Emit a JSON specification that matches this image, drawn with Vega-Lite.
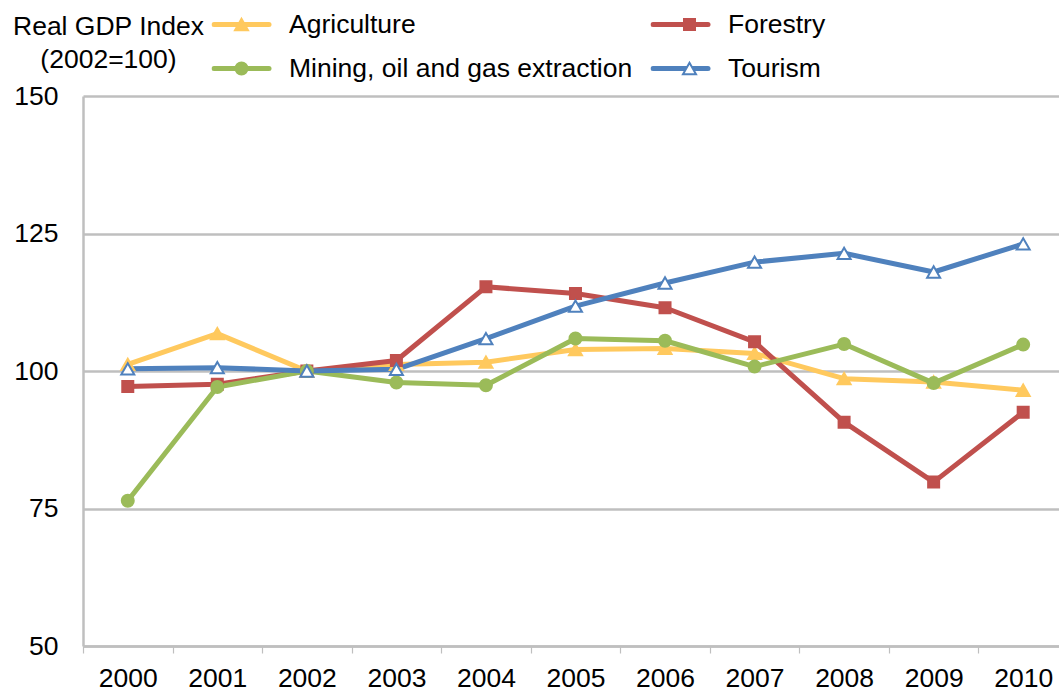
{
  "$schema": "https://vega.github.io/schema/vega-lite/v6.json",
  "width": 976,
  "height": 550,
  "autosize": "none",
  "padding": {"left": 83, "top": 96, "right": 0, "bottom": 46},
  "background": "white",
  "config": {
    "font": "Liberation Sans",
    "view": {"stroke": null},
    "axis": {"labelColor": "#000000", "titleColor": "#000000", "labelFontSize": 26.5, "titleFontSize": 26.5, "titleFontWeight": "normal"},
    "legend": {"labelColor": "#000000", "labelFontSize": 26.5, "labelLimit": 600}
  },
  "data": {
    "values": [
      {"year": 2000, "series": "Agriculture", "value": 101.2},
      {"year": 2001, "series": "Agriculture", "value": 106.8},
      {"year": 2002, "series": "Agriculture", "value": 100.0},
      {"year": 2003, "series": "Agriculture", "value": 101.2},
      {"year": 2004, "series": "Agriculture", "value": 101.6},
      {"year": 2005, "series": "Agriculture", "value": 103.9},
      {"year": 2006, "series": "Agriculture", "value": 104.1},
      {"year": 2007, "series": "Agriculture", "value": 103.2},
      {"year": 2008, "series": "Agriculture", "value": 98.6},
      {"year": 2009, "series": "Agriculture", "value": 98.0},
      {"year": 2010, "series": "Agriculture", "value": 96.5},
      {"year": 2000, "series": "Forestry", "value": 97.2},
      {"year": 2001, "series": "Forestry", "value": 97.6},
      {"year": 2002, "series": "Forestry", "value": 100.0},
      {"year": 2003, "series": "Forestry", "value": 101.9},
      {"year": 2004, "series": "Forestry", "value": 115.3},
      {"year": 2005, "series": "Forestry", "value": 114.1},
      {"year": 2006, "series": "Forestry", "value": 111.5},
      {"year": 2007, "series": "Forestry", "value": 105.3},
      {"year": 2008, "series": "Forestry", "value": 90.7},
      {"year": 2009, "series": "Forestry", "value": 79.8},
      {"year": 2010, "series": "Forestry", "value": 92.5},
      {"year": 2000, "series": "Mining, oil and gas extraction", "value": 76.4},
      {"year": 2001, "series": "Mining, oil and gas extraction", "value": 97.1},
      {"year": 2002, "series": "Mining, oil and gas extraction", "value": 100.0},
      {"year": 2003, "series": "Mining, oil and gas extraction", "value": 97.9},
      {"year": 2004, "series": "Mining, oil and gas extraction", "value": 97.4},
      {"year": 2005, "series": "Mining, oil and gas extraction", "value": 105.9},
      {"year": 2006, "series": "Mining, oil and gas extraction", "value": 105.5},
      {"year": 2007, "series": "Mining, oil and gas extraction", "value": 100.8},
      {"year": 2008, "series": "Mining, oil and gas extraction", "value": 104.9},
      {"year": 2009, "series": "Mining, oil and gas extraction", "value": 97.8},
      {"year": 2010, "series": "Mining, oil and gas extraction", "value": 104.8},
      {"year": 2000, "series": "Tourism", "value": 100.4},
      {"year": 2001, "series": "Tourism", "value": 100.6},
      {"year": 2002, "series": "Tourism", "value": 100.0},
      {"year": 2003, "series": "Tourism", "value": 100.3},
      {"year": 2004, "series": "Tourism", "value": 105.9},
      {"year": 2005, "series": "Tourism", "value": 111.8},
      {"year": 2006, "series": "Tourism", "value": 116.0},
      {"year": 2007, "series": "Tourism", "value": 119.8},
      {"year": 2008, "series": "Tourism", "value": 121.4},
      {"year": 2009, "series": "Tourism", "value": 118.0},
      {"year": 2010, "series": "Tourism", "value": 123.1}
    ]
  },
  "encoding": {
    "x": {
      "field": "year",
      "type": "quantitative",
      "scale": {"domain": [1999.5, 2010.4], "nice": false, "zero": false},
      "axis": {
        "values": [2000, 2001, 2002, 2003, 2004, 2005, 2006, 2007, 2008, 2009, 2010],
        "format": "d",
        "title": null,
        "grid": false,
        "domain": true,
        "domainColor": "#BFBFBF",
        "domainWidth": 2.5,
        "ticks": true,
        "tickSize": 7,
        "tickWidth": 1.2,
        "tickColor": "#BFBFBF",
        "tickOffset": -44.78,
        "labelOffset": 44.78,
        "labelPadding": 12,
        "labelFlush": false,
        "labelOverlap": false,
        "labelBound": false
      }
    },
    "y": {
      "field": "value",
      "type": "quantitative",
      "scale": {"domain": [50, 150], "nice": false, "zero": false},
      "axis": {
        "values": [50, 75, 100, 125, 150],
        "title": ["Real GDP Index", "(2002=100)"],
        "titleAngle": 0,
        "titleAlign": "center",
        "titleBaseline": "top",
        "titleX": 25,
        "titleY": -83,
        "titleLineHeight": 33,
        "grid": true,
        "gridColor": "#BFBFBF",
        "gridWidth": 2.5,
        "domain": true,
        "domainColor": "#BFBFBF",
        "domainWidth": 2.5,
        "ticks": false,
        "labelPadding": 25
      }
    }
  },
  "layer": [
    {
      "mark": {"type": "line", "strokeWidth": 5, "strokeCap": "round", "strokeJoin": "round"},
      "encoding": {
        "color": {
          "field": "series",
          "type": "nominal",
          "scale": {
            "domain": ["Agriculture", "Forestry", "Mining, oil and gas extraction", "Tourism"],
            "range": ["#FFC95E", "#C0504D", "#9BBB59", "#4F81BD"]
          },
          "legend": {
            "title": null,
            "orient": "none",
            "direction": "horizontal",
            "legendX": 128.5,
            "legendY": -86.5,
            "columns": 2,
            "symbolType": "stroke",
            "symbolSize": 3025,
            "symbolStrokeWidth": 5,
            "symbolOffset": 0,
            "labelOffset": 17.5,
            "clipHeight": 30,
            "columnPadding": 18,
            "rowPadding": 14,
            "encode": {"symbols": {"update": {"strokeCap": {"value": "round"}}}}
          }
        }
      }
    },
    {
      "mark": {"type": "point", "filled": true, "strokeWidth": 2, "opacity": 1},
      "encoding": {
        "shape": {
          "field": "series",
          "type": "nominal",
          "scale": {
            "domain": ["Agriculture", "Forestry", "Mining, oil and gas extraction", "Tourism"],
            "range": ["triangle-up", "square", "circle", "triangle-up"]
          },
          "legend": {
            "title": null,
            "orient": "none",
            "direction": "horizontal",
            "legendX": 128.5,
            "legendY": -86.5,
            "columns": 2,
            "symbolStrokeWidth": 2,
            "symbolOffset": 16.75,
            "labelOffset": 3.5,
            "labelExpr": "''",
            "clipHeight": 30,
            "columnPadding": 401,
            "rowPadding": 14
          }
        },
        "fill": {
          "field": "series",
          "type": "nominal",
          "scale": {
            "domain": ["Agriculture", "Forestry", "Mining, oil and gas extraction", "Tourism"],
            "range": ["#FFC95E", "#C0504D", "#9BBB59", "#FFFFFF"]
          }
        },
        "stroke": {
          "field": "series",
          "type": "nominal",
          "scale": {
            "domain": ["Agriculture", "Forestry", "Mining, oil and gas extraction", "Tourism"],
            "range": ["#FFC95E", "#C0504D", "#9BBB59", "#4F81BD"]
          }
        },
        "size": {
          "field": "series",
          "type": "nominal",
          "scale": {
            "type": "ordinal",
            "domain": ["Agriculture", "Forestry", "Mining, oil and gas extraction", "Tourism"],
            "range": [169, 121, 144, 169]
          }
        }
      }
    }
  ],
  "resolve": {
    "legend": {"shape": "independent", "fill": "independent", "stroke": "independent", "size": "independent"}
  }
}
